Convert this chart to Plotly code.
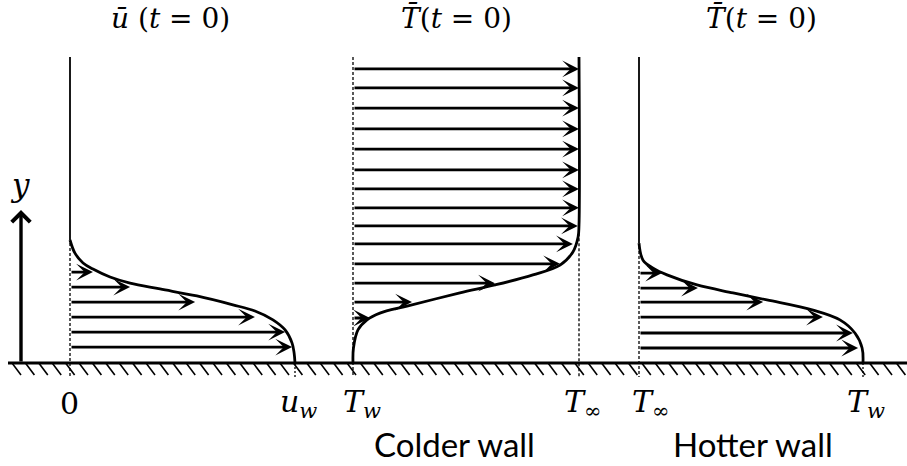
import plotly.graph_objects as go

# ---------------- data (fractions of panel width, heights as fraction of domain) ----
# Velocity profile u(t=0) : value fraction (0 -> u_w) vs height
u_curve_val = [0, 0.022, 0.058, 0.102, 0.178, 0.267, 0.400, 0.564, 0.724, 0.822, 0.902, 0.956, 0.987, 0.996, 1.0]
u_curve_h   = [0.402, 0.359, 0.327, 0.307, 0.281, 0.261, 0.242, 0.219, 0.190, 0.170, 0.141, 0.108, 0.065, 0.033, 0.0]
u_arrow_h   = [0.297, 0.248, 0.199, 0.150, 0.101, 0.052]
u_arrow_val = [0.102, 0.267, 0.556, 0.822, 0.956, 0.987]

# Temperature profile, colder wall : fraction (T_w -> T_inf)
tc_curve_val = [0, 0.002, 0.022, 0.062, 0.119, 0.239, 0.473, 0.628, 0.796, 0.916, 0.973, 0.996, 1.0, 1.0]
tc_curve_h   = [0.0, 0.049, 0.108, 0.141, 0.163, 0.186, 0.229, 0.255, 0.288, 0.320, 0.363, 0.412, 0.451, 1.0]
tc_arrow_h   = [0.961, 0.899, 0.833, 0.765, 0.699, 0.631, 0.569, 0.507, 0.448, 0.389, 0.324, 0.261, 0.199, 0.147]
tc_arrow_val = [1, 1, 1, 1, 1, 1, 1, 1, 0.995, 0.973, 0.916, 0.628, 0.261, 0.075]

# Temperature profile, hotter wall : fraction (T_inf -> T_w)
th_curve_val = [0, 0.018, 0.063, 0.125, 0.259, 0.420, 0.571, 0.777, 0.897, 0.964, 0.996, 1.0]
th_curve_h   = [0.392, 0.336, 0.310, 0.288, 0.255, 0.229, 0.206, 0.173, 0.141, 0.098, 0.049, 0.0]
th_arrow_h   = [0.294, 0.245, 0.199, 0.150, 0.098, 0.049]
th_arrow_val = [0.103, 0.263, 0.554, 0.821, 0.955, 0.978]

titles = ["<i>ū</i> (<i>t</i> = 0)", "<i>T̄</i>(<i>t</i> = 0)", "<i>T̄</i>(<i>t</i> = 0)"]
left_ticks = ["0", "<i>T<sub>w</sub></i>", "<i>T</i><sub>∞</sub>"]
right_ticks = ["<i>u<sub>w</sub></i>", "<i>T</i><sub>∞</sub>", "<i>T<sub>w</sub></i>"]
captions = ["", "Colder wall", "Hotter wall"]

# ---------------- layout constants ----------------
W, H = 907, 466
WALL_PX, TOP_PX = 363, 57
SCALE = WALL_PX - TOP_PX
Y0 = (WALL_PX - H) / SCALE
Y1 = WALL_PX / SCALE
def hy(px):  # pixel row -> y data
    return (WALL_PX - px) / SCALE

panels = [dict(x0=70, w=225), dict(x0=353, w=226), dict(x0=639, w=224)]
BLACK = "black"
MATH = "DejaVu Serif"
SANS = "Lato"

fig = go.Figure()
ann = []

def X(p, v):
    return p["x0"] + v * p["w"]

def add_line(xs, ys, width, dash="solid", shape="linear", smoothing=1.0):
    fig.add_trace(go.Scatter(x=xs, y=ys, mode="lines",
                             line=dict(color=BLACK, width=width, dash=dash, shape=shape, smoothing=smoothing),
                             hoverinfo="skip", showlegend=False))

def add_arrow(x, y, ax, ay, head=3, size=1.0, width=2.8):
    ann.append(dict(x=x, y=y, ax=ax, ay=ay, xref="x", yref="y", axref="x", ayref="y",
                    text="", showarrow=True, arrowhead=head, arrowsize=size, arrowwidth=width,
                    arrowcolor=BLACK, standoff=0))

# wall
add_line([8, W], [0, 0], 3)
# hatching
hx, hyy = [], []
x = 12.0
while x < W:
    hx += [x, x + 9, None]
    hyy += [0, hy(WALL_PX + 12), None]
    x += 13.4
add_line(hx, hyy, 1.6)

dash_bottom = hy(WALL_PX + 14)

# ---- panel 1 : velocity
p = panels[0]
add_line([X(p, 0), X(p, 0)], [1.0, u_curve_h[0]], 1.8)
add_line([X(p, 0), X(p, 0)], [u_curve_h[0] - 0.01, dash_bottom], 1.3, dash="3px,2px")
add_line([X(p, 1), X(p, 1)], [0, dash_bottom], 1.3, dash="2px,2px")
add_line([X(p, v) for v in u_curve_val], u_curve_h, 2.8, shape="spline")
for h, v in zip(u_arrow_h, u_arrow_val):
    add_arrow(X(p, v), h, X(p, 0), h)

# ---- panel 2 : colder wall
p = panels[1]
add_line([X(p, 0), X(p, 0)], [1.0, dash_bottom], 1.3, dash="3px,2px")
add_line([X(p, 1), X(p, 1)], [0.44, dash_bottom], 1.3, dash="3px,2px")
add_line([X(p, v) for v in tc_curve_val], tc_curve_h, 2.8, shape="spline", smoothing=1.0)
for h, v in zip(tc_arrow_h, tc_arrow_val):
    add_arrow(X(p, v), h, X(p, 0), h)

# ---- panel 3 : hotter wall
p = panels[2]
add_line([X(p, 0), X(p, 0)], [1.0, th_curve_h[0]], 1.8)
add_line([X(p, 0), X(p, 0)], [th_curve_h[0] - 0.01, dash_bottom], 1.3, dash="3px,2px")
add_line([X(p, 1), X(p, 1)], [0, dash_bottom], 1.3, dash="2px,2px")
add_line([X(p, v) for v in th_curve_val], th_curve_h, 2.8, shape="spline")
for h, v in zip(th_arrow_h, th_arrow_val):
    add_arrow(X(p, v), h, X(p, 0), h)

# ---- y axis arrow
add_arrow(21, hy(210), 21, 0, head=4, size=1.05, width=3.4)
ann.append(dict(x=20, y=hy(185), xref="x", yref="y", text="<i>y</i>", showarrow=False,
                font=dict(family=MATH, size=31, color=BLACK)))

# ---- titles and labels
title_x = [170, 456, 761]
for tx, t in zip(title_x, titles):
    ann.append(dict(x=tx, y=hy(18), xref="x", yref="y", text=t, showarrow=False,
                    font=dict(family=MATH, size=28, color=BLACK)))
left_x = [69, 362, 651]
right_x = [298, 583, 866]
for lx, t in zip(left_x, left_ticks):
    ann.append(dict(x=lx, y=hy(403), xref="x", yref="y", text=t, showarrow=False,
                    font=dict(family=MATH, size=30, color=BLACK)))
for rx, t in zip(right_x, right_ticks):
    ann.append(dict(x=rx, y=hy(403), xref="x", yref="y", text=t, showarrow=False,
                    font=dict(family=MATH, size=30, color=BLACK)))
cap_x = [0, 454, 753]
for cx, t in zip(cap_x, captions):
    if t:
        ann.append(dict(x=cx, y=hy(444), xref="x", yref="y", text=t, showarrow=False,
                        font=dict(family=SANS, size=33, color=BLACK)))

fig.update_layout(
    width=W, height=H, margin=dict(l=0, r=0, t=0, b=0),
    paper_bgcolor="white", plot_bgcolor="white",
    xaxis=dict(range=[0, W], visible=False, fixedrange=True),
    yaxis=dict(range=[Y0, Y1], visible=False, fixedrange=True),
    annotations=ann, showlegend=False,
)
fig.write_html("out.html", config=dict(displayModeBar=False),
               post_script="document.body.style.margin='0';document.body.style.overflow='hidden';")
